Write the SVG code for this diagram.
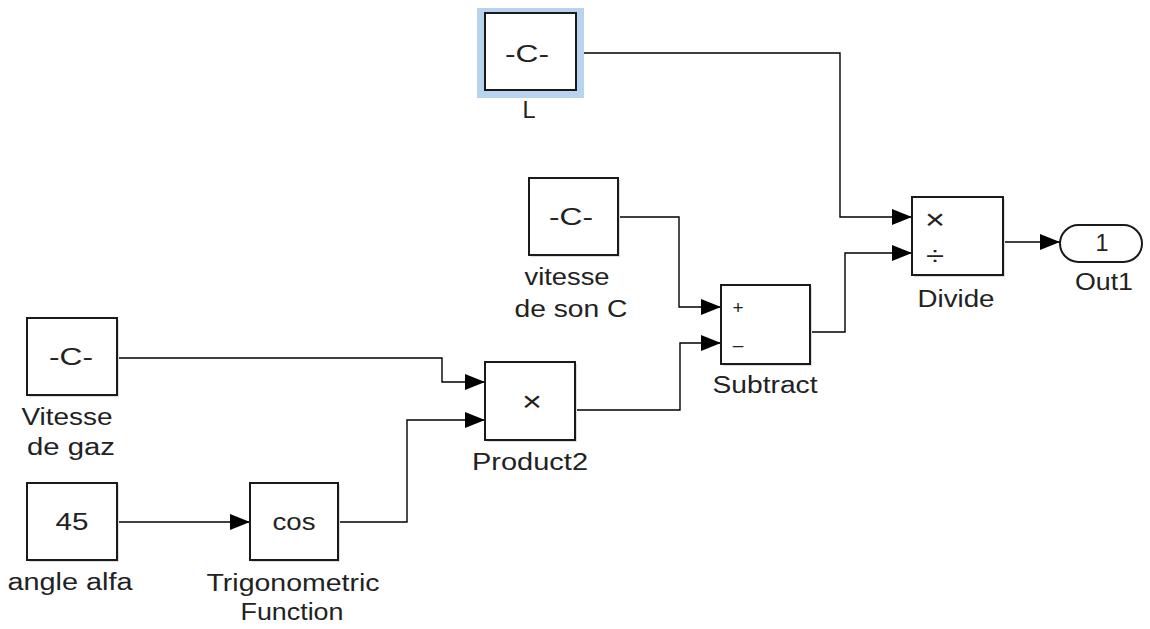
<svg xmlns="http://www.w3.org/2000/svg" width="1150" height="629" viewBox="0 0 1150 629">
<style>
.blk{fill:#fff;stroke:#1a1a1a;stroke-width:2}
.sh{fill:#dcdcdc}
.t{font-family:"Liberation Sans",Arial,sans-serif;font-size:23.5px;fill:#222;text-anchor:middle}
.i{font-family:"Liberation Sans",Arial,sans-serif;font-size:23.5px;fill:#222;text-anchor:middle}
.s{font-family:"Liberation Sans",Arial,sans-serif;fill:#222;text-anchor:middle}
.w{fill:none;stroke:#000;stroke-width:1.4}
</style>
<defs>
<marker id="ar" markerWidth="20" markerHeight="16" refX="20" refY="8" orient="auto" markerUnits="userSpaceOnUse">
<path d="M0,0 L20,8 L0,16 Z" fill="#000"/>
</marker>
</defs>
<rect width="1150" height="629" fill="#fff"/>
<g id="connectors">
<path class="w" d="M576,53 H840 V217 H912" marker-end="url(#ar)"/>
<path class="w" d="M810,332 H845 V253 H912" marker-end="url(#ar)"/>
<path class="w" d="M1003,242 H1060" marker-end="url(#ar)"/>
<path class="w" d="M618,217 H679 V307 H721" marker-end="url(#ar)"/>
<path class="w" d="M575,410 H680 V343 H721" marker-end="url(#ar)"/>
<path class="w" d="M117,358 H442 V382 H485" marker-end="url(#ar)"/>
<path class="w" d="M338,522 H407 V420 H485" marker-end="url(#ar)"/>
<path class="w" d="M117,522 H250" marker-end="url(#ar)"/>
</g>
<g id="L">
<rect x="477" y="8" width="107" height="90" fill="#b7d3f0"/>
<rect x="485" y="13" width="91" height="77" class="blk"/>
<text class="i" x="527" y="62" textLength="44" lengthAdjust="spacingAndGlyphs">-C-</text>
<text class="t" x="529" y="118">L</text>
</g>
<g id="vitesse_son">
<rect x="531" y="180" width="89" height="77" class="sh"/>
<rect x="529" y="178" width="89" height="77" class="blk"/>
<text class="i" x="571" y="225" textLength="44" lengthAdjust="spacingAndGlyphs">-C-</text>
<text class="t" x="567" y="285" textLength="85" lengthAdjust="spacingAndGlyphs">vitesse</text>
<text class="t" x="571" y="317" textLength="113" lengthAdjust="spacingAndGlyphs">de son C</text>
</g>
<g id="vitesse_gaz">
<rect x="29" y="320" width="90" height="77" class="sh"/>
<rect x="27" y="318" width="90" height="77" class="blk"/>
<text class="i" x="71" y="365" textLength="44" lengthAdjust="spacingAndGlyphs">-C-</text>
<text class="t" x="67" y="425" textLength="91" lengthAdjust="spacingAndGlyphs">Vitesse</text>
<text class="t" x="71" y="455" textLength="88" lengthAdjust="spacingAndGlyphs">de gaz</text>
</g>
<g id="angle">
<rect x="29" y="485" width="90" height="77" class="sh"/>
<rect x="27" y="483" width="90" height="77" class="blk"/>
<text class="i" x="72" y="530" textLength="33" lengthAdjust="spacingAndGlyphs">45</text>
<text class="t" x="70" y="590" textLength="125" lengthAdjust="spacingAndGlyphs">angle alfa</text>
</g>
<g id="trig">
<rect x="252" y="485" width="88" height="77" class="sh"/>
<rect x="250" y="483" width="88" height="77" class="blk"/>
<text class="i" x="294" y="530" textLength="43" lengthAdjust="spacingAndGlyphs">cos</text>
<text class="t" x="293" y="591" textLength="173" lengthAdjust="spacingAndGlyphs">Trigonometric</text>
<text class="t" x="292" y="620" textLength="103" lengthAdjust="spacingAndGlyphs">Function</text>
</g>
<g id="product2">
<rect x="487" y="364" width="90" height="78" class="sh"/>
<rect x="485" y="362" width="90" height="78" class="blk"/>
<text class="s" x="532" y="411" style="font-size:28px" textLength="20" lengthAdjust="spacingAndGlyphs">×</text>
<text class="t" x="530" y="470" textLength="116" lengthAdjust="spacingAndGlyphs">Product2</text>
</g>
<g id="subtract">
<rect x="723" y="287" width="89" height="79" class="sh"/>
<rect x="721" y="285" width="89" height="79" class="blk"/>
<text class="s" x="738" y="314" style="font-size:19px">+</text>
<text class="s" x="738" y="351" style="font-size:19px">–</text>
<text class="t" x="765" y="393" textLength="105" lengthAdjust="spacingAndGlyphs">Subtract</text>
</g>
<g id="divide">
<rect x="914" y="199" width="91" height="78" class="sh"/>
<rect x="912" y="197" width="91" height="78" class="blk"/>
<text class="s" x="935" y="229" style="font-size:28px" textLength="20" lengthAdjust="spacingAndGlyphs">×</text>
<text class="s" x="935" y="265" style="font-size:26px" textLength="18" lengthAdjust="spacingAndGlyphs">÷</text>
<text class="t" x="956" y="307" textLength="77" lengthAdjust="spacingAndGlyphs">Divide</text>
</g>
<g id="out1">
<rect x="1060" y="225" width="82" height="37" rx="18.5" class="blk"/>
<text class="i" x="1102" y="251">1</text>
<text class="t" x="1104" y="290" textLength="58" lengthAdjust="spacingAndGlyphs">Out1</text>
</g>
</svg>
